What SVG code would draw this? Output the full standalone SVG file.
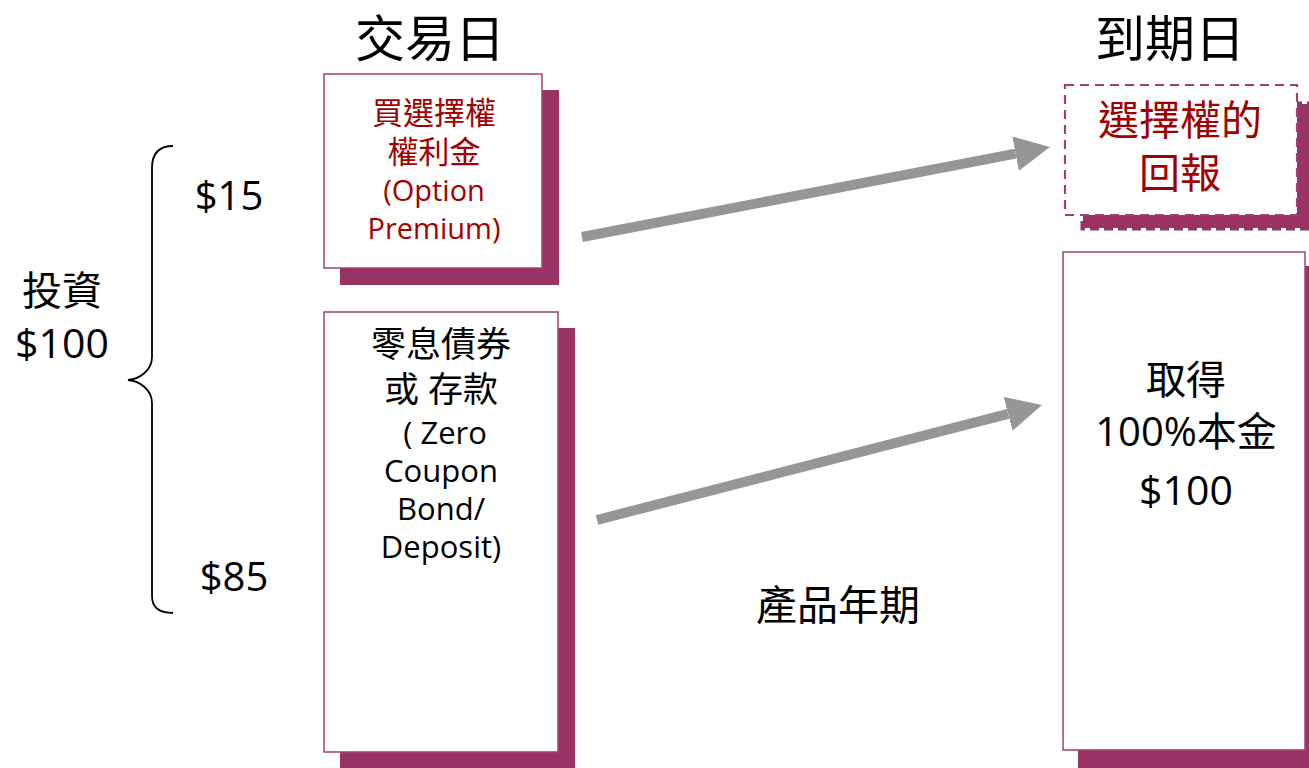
<svg xmlns="http://www.w3.org/2000/svg" width="1309" height="768" viewBox="0 0 1309 768">
<style>
.t{font-family:"Open Sans","Noto Sans","Noto Sans CJK TC",sans-serif;text-anchor:middle;fill:#000}
.r{fill:#a00000}
.box{fill:#fff;stroke:#a0406f;stroke-width:1.5}
.sh{fill:#993366}
.arr{stroke:#969696;stroke-width:10;fill:none;marker-end:url(#ah)}
</style>
<defs>
<marker id="ah" markerWidth="3.5" markerHeight="3.5" refX="0" refY="5" viewBox="0 0 10 10" orient="auto" markerUnits="strokeWidth">
<path d="M0,0 L10,5 L0,10 z" fill="#969696"/>
</marker>
</defs>
<rect width="1309" height="768" fill="#fff"/>
<g id="titles">
<text class="t" x="430" y="57" font-size="50">交易日</text>
<text class="t" x="1170" y="57" font-size="50">到期日</text>
</g>
<g id="invest">
<path d="M173,146 C160,146 152,152 152,168 L152,357 C152,370 140,379 128,380 C140,381 152,390 152,403 L152,596 C152,608 160,613 173,613" fill="none" stroke="#000" stroke-width="1.8"/>
<text class="t" x="62" y="305" font-size="40">投資</text>
<text class="t" x="62" y="358" font-size="41">$100</text>
<text class="t" x="229" y="210" font-size="40">$15</text>
<text class="t" x="234" y="591" font-size="40">$85</text>
</g>
<g id="premium">
<rect class="sh" x="340" y="90" width="219" height="195"/>
<rect class="box" x="324" y="74" width="218" height="194"/>
<text class="t r" font-size="29"><tspan x="434" y="124" font-size="31">買選擇權</tspan><tspan x="434" y="163" font-size="31">權利金</tspan><tspan x="434" y="201">(Option</tspan><tspan x="434" y="239">Premium)</tspan></text>
</g>
<g id="bond">
<rect class="sh" x="340" y="328" width="235" height="445"/>
<rect class="box" x="324" y="312" width="234" height="440"/>
<text class="t" font-size="31"><tspan x="441" y="357" font-size="35">零息債券</tspan><tspan x="441" y="402" font-size="35">或 存款</tspan><tspan x="441" y="444"> ( Zero</tspan><tspan x="441" y="482">Coupon</tspan><tspan x="441" y="520">Bond/</tspan><tspan x="441" y="558">Deposit)</tspan></text>
</g>
<g id="payoff">
<rect x="1083" y="104" width="240" height="124" fill="#993366" stroke="#993366" stroke-width="5" stroke-dasharray="9,5"/>
<rect x="1065" y="85" width="232" height="130" fill="#fff" stroke="#a0406f" stroke-width="2.2" stroke-dasharray="9,6"/>
<text class="t r" font-size="41"><tspan x="1180" y="135">選擇權的</tspan><tspan x="1180" y="188">回報</tspan></text>
</g>
<g id="principal">
<rect class="sh" x="1078" y="266" width="240" height="510"/>
<rect class="box" x="1063" y="252" width="242" height="498"/>
<text class="t" font-size="40"><tspan x="1186" y="394">取得</tspan><tspan x="1186" y="446">100%本金</tspan><tspan x="1186" y="505" font-size="41">$100</tspan></text>
</g>
<g id="connectors">
<line class="arr" x1="582" y1="237" x2="1015.6" y2="153.6"/>
<line class="arr" x1="597" y1="520" x2="1008.1" y2="413.8"/>
</g>
<g id="label">
<text class="t" x="838" y="620" font-size="41">產品年期</text>
</g>
</svg>
